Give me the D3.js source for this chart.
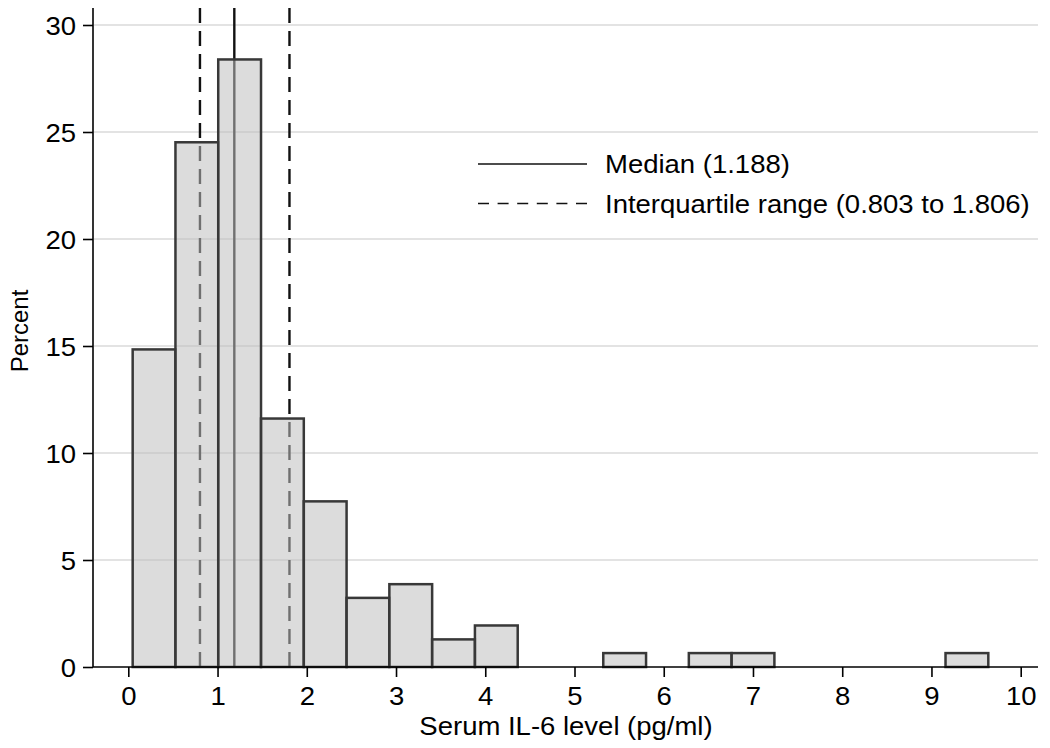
<!DOCTYPE html>
<html>
<head>
<meta charset="utf-8">
<script src="https://cdn.jsdelivr.net/npm/d3@7"></script>
<style>
  html, body { margin: 0; padding: 0; background: #fff; }
  svg { display: block; font-family: "Liberation Sans", Arial, sans-serif; }
</style>
</head>
<body>
<svg id="chart" width="1050" height="748"></svg>
<script>
// ---- data ----
const binStart = 0.049;      // left edge of first bin (pg/ml)
const binWidth = 0.4794;     // bin width (pg/ml)
const percents = [14.84, 24.52, 28.39, 11.61, 7.74, 3.23, 3.87, 1.29, 1.94, 0,
                  0, 0.65, 0, 0.65, 0.65, 0, 0, 0, 0, 0.65];
const xTicks = [0, 1, 2, 3, 4, 5, 6, 7, 8, 9, 10];
const yTicks = [0, 5, 10, 15, 20, 25, 30];
const refLines = [
  { label: "Median (1.188)", value: 1.188, dashed: false },
  { label: "Interquartile range (0.803 to 1.806)", value: 0.803, dashed: true },
  { label: null, value: 1.806, dashed: true }
];
const xTitle = "Serum IL-6 level (pg/ml)";
const yTitle = "Percent";

// ---- layout ----
const svg = d3.select("#chart");
const stretch = 1.1;
const fs = 25;
const plotLeft = 93, plotRight = 1038, plotTop = 8;
const x = d3.scaleLinear().domain([0, 10]).range([128.3, 1020.7]);
const y = d3.scaleLinear().domain([0, 30]).range([667, 25]);

// gridlines
svg.append("g").selectAll("line").data(yTicks.filter(d => d > 0)).join("line")
  .attr("x1", plotLeft + 1).attr("x2", plotRight)
  .attr("y1", d => y(d)).attr("y2", d => y(d))
  .attr("stroke", "#dadada").attr("stroke-width", 1.6);

// reference lines (drawn beneath semi-transparent bars)
svg.append("g").selectAll("line").data(refLines).join("line")
  .attr("x1", d => x(d.value)).attr("x2", d => x(d.value))
  .attr("y1", plotTop).attr("y2", y(0))
  .attr("stroke", "#111").attr("stroke-width", 2.4)
  .attr("stroke-dasharray", d => d.dashed ? "15,8" : null);

// bars
const bins = percents.map((p, i) => ({ x0: binStart + i * binWidth, x1: binStart + (i + 1) * binWidth, p }));
svg.append("g").selectAll("rect").data(bins.filter(b => b.p > 0)).join("rect")
  .attr("x", d => x(d.x0)).attr("width", d => x(d.x1) - x(d.x0))
  .attr("y", d => y(d.p)).attr("height", d => y(0) - y(d.p))
  .attr("fill", "rgb(192,192,192)").attr("fill-opacity", 0.55)
  .attr("stroke", "#383838").attr("stroke-width", 2.5);

// x axis
const xAxis = svg.append("g").attr("transform", `translate(0,${y(0)})`)
  .call(d3.axisBottom(x).tickValues(xTicks).tickSize(10).tickPadding(10).tickFormat(d3.format("d")));
xAxis.select(".domain").remove();
xAxis.selectAll(".tick line").attr("stroke", "#000").attr("stroke-width", 1.6);
xAxis.selectAll(".tick text").attr("font-size", fs).attr("fill", "#000")
  .attr("font-family", "Liberation Sans, Arial, sans-serif")
  .attr("transform", `scale(${stretch},1)`);
svg.append("line").attr("x1", plotLeft).attr("x2", plotRight)
  .attr("y1", y(0)).attr("y2", y(0)).attr("stroke", "#000").attr("stroke-width", 1.6);

// y axis
const yAxis = svg.append("g").attr("transform", `translate(${plotLeft},0)`)
  .call(d3.axisLeft(y).tickValues(yTicks).tickSize(10).tickPadding(7));
yAxis.select(".domain").remove();
yAxis.selectAll(".tick line").attr("stroke", "#000").attr("stroke-width", 1.6);
yAxis.selectAll(".tick text").attr("font-size", fs).attr("fill", "#000")
  .attr("font-family", "Liberation Sans, Arial, sans-serif")
  .attr("x", -17 / stretch).attr("dy", "0.36em")
  .attr("transform", `scale(${stretch},1)`);
svg.append("line").attr("x1", plotLeft).attr("x2", plotLeft)
  .attr("y1", plotTop).attr("y2", y(0)).attr("stroke", "#000").attr("stroke-width", 1.6);

// axis titles
svg.append("text").attr("transform", `translate(566,735) scale(${stretch},1)`)
  .attr("text-anchor", "middle").attr("font-size", fs).text(xTitle);
svg.append("text").attr("transform", "translate(28,331) rotate(-90)")
  .attr("text-anchor", "middle").attr("font-size", 24).text(yTitle);

// legend
const legItems = refLines.filter(d => d.label);
const leg = svg.append("g");
legItems.forEach((d, i) => {
  const cy = 164 + i * 39.5;
  leg.append("line").attr("x1", 478).attr("x2", 587).attr("y1", cy).attr("y2", cy)
    .attr("stroke", "#111").attr("stroke-width", 1.6)
    .attr("stroke-dasharray", d.dashed ? "11,8.6" : null);
  leg.append("text").attr("transform", `translate(605,${cy + 9}) scale(${stretch},1)`)
    .attr("font-size", fs).text(d.label);
});
</script>
</body>
</html>
